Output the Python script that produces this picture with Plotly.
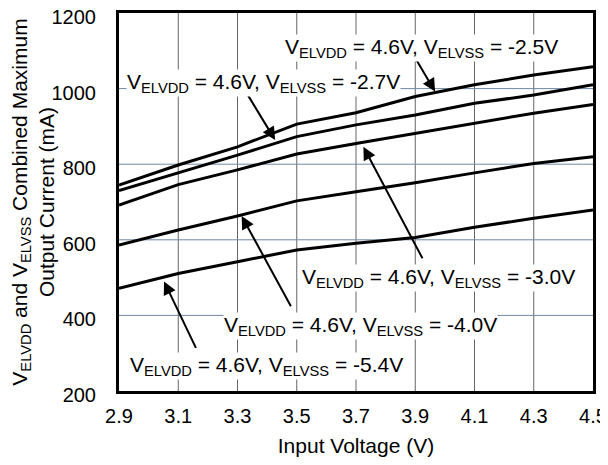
import plotly.graph_objects as go

x_vals = [2.9, 3.1, 3.3, 3.5, 3.7, 3.9, 4.1, 4.3, 4.5]
i_25 = [745, 798, 846, 906, 936, 979, 1010, 1036, 1058]
i_27 = [730, 776, 824, 873, 904, 930, 961, 983, 1010]
i_30 = [692, 746, 785, 827, 855, 882, 908, 935, 958]
i_40 = [586, 626, 663, 703, 727, 751, 777, 802, 820]
i_54 = [472, 511, 542, 573, 591, 606, 633, 657, 679]

series = [i_25, i_27, i_30, i_40, i_54]

labels = [
    "V<sub>ELVDD</sub> = 4.6V, V<sub>ELVSS</sub> = -2.5V",
    "V<sub>ELVDD</sub> = 4.6V, V<sub>ELVSS</sub> = -2.7V",
    "V<sub>ELVDD</sub> = 4.6V, V<sub>ELVSS</sub> = -3.0V",
    "V<sub>ELVDD</sub> = 4.6V, V<sub>ELVSS</sub> = -4.0V",
    "V<sub>ELVDD</sub> = 4.6V, V<sub>ELVSS</sub> = -5.4V",
]
label_x = [3.922, 3.388, 3.979, 3.714, 3.397]
label_y = [1107, 1015, 499, 372, 266]
arrow_head_x = [3.967, 3.427, 3.725, 3.314, 3.052]
arrow_head_y = [992, 864, 846, 663, 490]
arrow_tail_x = [3.900, 3.331, 3.927, 3.483, 3.162]
arrow_tail_y = [1081, 988, 547, 420, 310]

x_ticks = [2.9, 3.1, 3.3, 3.5, 3.7, 3.9, 4.1, 4.3, 4.5]
y_ticks = [200, 400, 600, 800, 1000, 1200]

FONT = "Liberation Sans, Arial, sans-serif"
FS = 21
TFS = 20

fig = go.Figure()
for s in series:
    fig.add_trace(go.Scatter(x=x_vals, y=s, mode="lines",
                             line=dict(color="black", width=3),
                             showlegend=False, hoverinfo="skip"))

# vertical grid lines (gray)
for xv in x_ticks[1:-1]:
    fig.add_shape(type="line", xref="x", yref="paper", x0=xv, x1=xv, y0=0, y1=1,
                  line=dict(color="#666666", width=1), layer="below")
# horizontal grid lines (blue-gray)
for yv in y_ticks[1:-1]:
    fig.add_shape(type="line", xref="paper", yref="y", x0=0, x1=1, y0=yv, y1=yv,
                  line=dict(color="#6f88a3", width=1), layer="below")

for i in range(len(labels)):
    fig.add_annotation(x=arrow_head_x[i], y=arrow_head_y[i], xref="x", yref="y",
                       ax=arrow_tail_x[i], ay=arrow_tail_y[i], axref="x", ayref="y",
                       text="", showarrow=True, arrowhead=2, arrowsize=1.3,
                       arrowwidth=2, arrowcolor="black", standoff=0, startstandoff=0)
    fig.add_annotation(x=label_x[i], y=label_y[i], xref="x", yref="y",
                       text=labels[i], showarrow=False, bgcolor="white",
                       borderpad=0, font=dict(size=FS, color="black", family=FONT))

fig.update_xaxes(range=[2.9, 4.5], tickvals=x_ticks,
                 ticktext=[f"{v:.1f}" for v in x_ticks],
                 showgrid=False, zeroline=False, showline=True, mirror=True,
                 linecolor="black", linewidth=3, ticks="", ticklabelstandoff=5,
                 automargin=False, ticklabeloverflow="allow",
                 tickfont=dict(size=TFS, color="black", family=FONT),
                 title=dict(text="Input Voltage (V)", standoff=13,
                            font=dict(size=FS, color="black", family=FONT)))
fig.update_yaxes(range=[200, 1200], tickvals=y_ticks,
                 showgrid=False, zeroline=False, showline=True, mirror=True,
                 linecolor="black", linewidth=3,
                 ticks="outside", ticklen=16, tickcolor="rgba(0,0,0,0)",
                 automargin=False, ticklabeloverflow="allow", ticklabelshift=4,
                 tickfont=dict(size=TFS, color="black", family=FONT),
                 title=dict(text="V<sub>ELVDD</sub> and V<sub>ELVSS</sub> Combined Maximum<br>Output Current (mA)",
                            standoff=0,
                            font=dict(size=FS, color="black", family=FONT)))

# page body adds an 8px margin, so the figure is 8px smaller than the window
fig.update_layout(width=600, height=457, plot_bgcolor="white", paper_bgcolor="white",
                  margin=dict(l=111, r=15, t=5, b=74),
                  font=dict(family=FONT, color="black"))

fig.write_html("out.html")
